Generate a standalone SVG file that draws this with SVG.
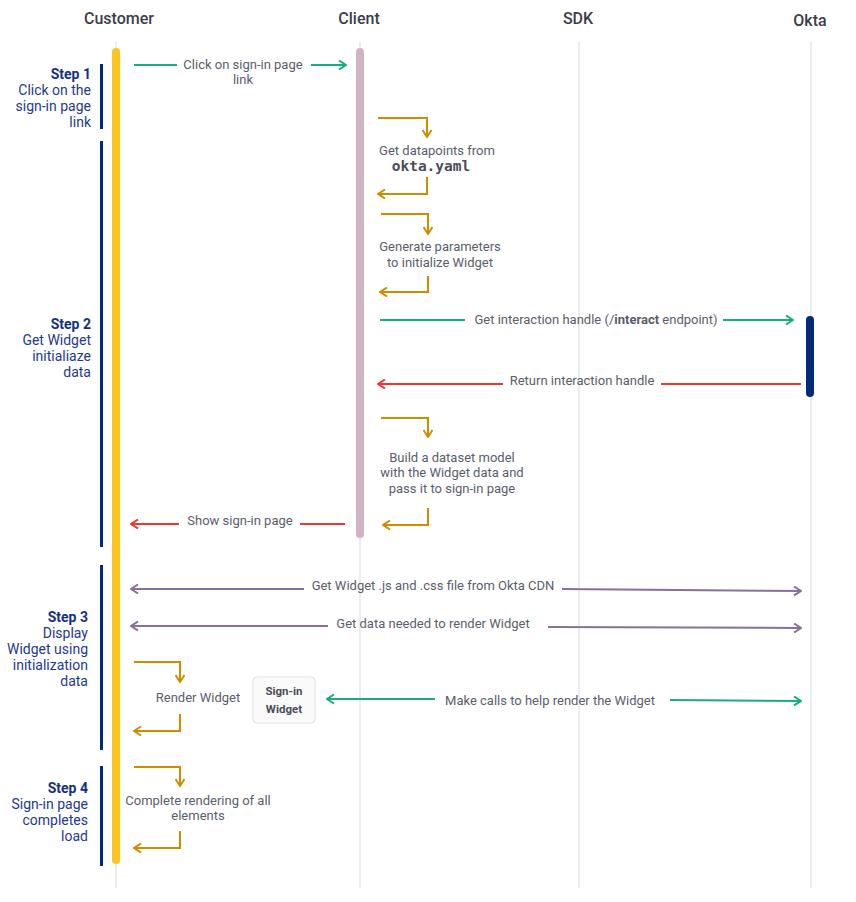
<svg xmlns="http://www.w3.org/2000/svg" width="856" height="902" viewBox="0 0 856 902">
<style>
.hdr{font-family:Roboto,"Liberation Sans",sans-serif;font-size:16px;font-weight:500;fill:#3b3d4a;text-anchor:middle}
.t{font-family:Roboto,"Liberation Sans",sans-serif;font-size:13px;fill:#5b5d6b;text-anchor:middle}
.st{font-family:Roboto,"Liberation Sans",sans-serif;font-size:14px;fill:#1e3a8c;text-anchor:end}
.stb{font-weight:700;fill:#163080}
.mono{font-family:"DejaVu Sans Mono","Liberation Mono",monospace;font-size:14.5px;font-weight:700;fill:#4a4c58}
.life{stroke:#e4e6eb;stroke-width:1.5;fill:none}
.g{stroke:#13b07b;stroke-width:2;fill:none}
.r{stroke:#e63a30;stroke-width:2;fill:none}
.o{stroke:#cf8c00;stroke-width:2;fill:none}
.p{stroke:#8a6f9c;stroke-width:2;fill:none}
.stepbar{fill:#002a7c}
.wt{font-family:Roboto,"Liberation Sans",sans-serif;font-size:11.5px;font-weight:700;fill:#4a4c58;text-anchor:middle}
</style>
<defs>
<marker id="ag" viewBox="0 0 10 10" refX="9" refY="5" markerWidth="10" markerHeight="10" markerUnits="userSpaceOnUse" orient="auto-start-reverse"><path d="M2,0.5 L9,5 L2,9.5" fill="none" stroke="#13b07b" stroke-width="2"/></marker>
<marker id="ar" viewBox="0 0 10 10" refX="9" refY="5" markerWidth="10" markerHeight="10" markerUnits="userSpaceOnUse" orient="auto-start-reverse"><path d="M2,0.5 L9,5 L2,9.5" fill="none" stroke="#e63a30" stroke-width="2"/></marker>
<marker id="ao" viewBox="0 0 10 10" refX="9" refY="5" markerWidth="10" markerHeight="10" markerUnits="userSpaceOnUse" orient="auto-start-reverse"><path d="M2,0.5 L9,5 L2,9.5" fill="none" stroke="#cf8c00" stroke-width="2"/></marker>
<marker id="ap" viewBox="0 0 10 10" refX="9" refY="5" markerWidth="10" markerHeight="10" markerUnits="userSpaceOnUse" orient="auto-start-reverse"><path d="M2,0.5 L9,5 L2,9.5" fill="none" stroke="#8a6f9c" stroke-width="2"/></marker>
</defs>
<rect width="856" height="902" fill="#ffffff"/>

<g id="lifelines">
<line class="life" x1="116" y1="42" x2="116" y2="888"/>
<line class="life" x1="360" y1="42" x2="360" y2="888"/>
<line class="life" x1="579" y1="42" x2="579" y2="888"/>
<line class="life" x1="811" y1="42" x2="811" y2="888"/>
</g>

<g id="customer"><text class="hdr" x="119" y="24">Customer</text><rect x="112" y="48" width="8" height="816" rx="4" fill="#fcc41c"/></g>
<g id="client"><text class="hdr" x="359" y="24">Client</text><rect x="356" y="48" width="8" height="490" rx="4" fill="#d2b2c5"/></g>
<g id="sdk"><text class="hdr" x="578" y="24">SDK</text></g>
<g id="okta"><text class="hdr" x="810" y="26">Okta</text><rect x="806" y="316" width="8" height="81" rx="4" fill="#002a7c"/></g>

<g id="step1"><rect class="stepbar" x="100" y="64" width="3" height="65"/>
<text class="st" x="91" y="79"><tspan class="stb">Step 1</tspan><tspan x="91" dy="16">Click on the</tspan><tspan x="91" dy="16">sign-in page</tspan><tspan x="91" dy="16">link</tspan></text></g>
<g id="step2"><rect class="stepbar" x="100" y="141" width="3" height="406"/>
<text class="st" x="91" y="329"><tspan class="stb">Step 2</tspan><tspan x="91" dy="16">Get Widget</tspan><tspan x="91" dy="16">initialiaze</tspan><tspan x="91" dy="16">data</tspan></text></g>
<g id="step3"><rect class="stepbar" x="100" y="565" width="3" height="185"/>
<text class="st" x="88" y="622"><tspan class="stb">Step 3</tspan><tspan x="88" dy="16">Display</tspan><tspan x="88" dy="16">Widget using</tspan><tspan x="88" dy="16">initialization</tspan><tspan x="88" dy="16">data</tspan></text></g>
<g id="step4"><rect class="stepbar" x="100" y="766" width="3" height="100"/>
<text class="st" x="88" y="793"><tspan class="stb">Step 4</tspan><tspan x="88" dy="16">Sign-in page</tspan><tspan x="88" dy="16">completes</tspan><tspan x="88" dy="16">load</tspan></text></g>

<g id="signin-widget"><rect x="253" y="677" width="62" height="46" rx="4" fill="#fafafa" stroke="#e2e2e2"/>
<text class="wt" x="284" y="695">Sign-in</text>
<text class="wt" x="284" y="713">Widget</text></g>

<g id="connectors">
<line class="g" x1="134" y1="65" x2="177" y2="65"/><line class="g" x1="311" y1="65" x2="346" y2="65" marker-end="url(#ag)"/>
<text class="t" x="243" y="69">Click on sign-in page</text><text class="t" x="243" y="84">link</text>

<path class="o" d="M378,118 H427 V137" marker-end="url(#ao)"/>
<text class="t" x="437" y="155">Get datapoints from</text>
<text class="mono" x="431" y="171" text-anchor="middle">okta.yaml</text>
<path class="o" d="M427,177 V194 H378" marker-end="url(#ao)"/>

<path class="o" d="M381,214 H428 V234" marker-end="url(#ao)"/>
<text class="t" x="440" y="251">Generate parameters</text><text class="t" x="440" y="267">to initialize Widget</text>
<path class="o" d="M428,276 V292 H380" marker-end="url(#ao)"/>

<line class="g" x1="380" y1="320" x2="465" y2="320"/><line class="g" x1="723" y1="320" x2="793" y2="320" marker-end="url(#ag)"/>
<text class="t" x="596" y="324">Get interaction handle (/<tspan font-weight="700">interact</tspan> endpoint)</text>

<line class="r" x1="801" y1="384" x2="661" y2="384"/><line class="r" x1="503" y1="384" x2="378" y2="384" marker-end="url(#ar)"/>
<text class="t" x="582" y="385">Return interaction handle</text>

<path class="o" d="M381,418 H428 V437" marker-end="url(#ao)"/>
<text class="t" x="452" y="462">Build a dataset model</text><text class="t" x="452" y="477">with the Widget data and</text><text class="t" x="452" y="493">pass it to sign-in page</text>
<path class="o" d="M428,508 V525 H383" marker-end="url(#ao)"/>

<line class="r" x1="345" y1="524" x2="300" y2="524"/><line class="r" x1="179" y1="524" x2="131" y2="524" marker-end="url(#ar)"/>
<text class="t" x="240" y="525">Show sign-in page</text>

<line class="p" x1="131" y1="589" x2="304" y2="589" marker-start="url(#ap)"/><line class="p" x1="562" y1="589" x2="801" y2="591" marker-end="url(#ap)"/>
<text class="t" x="433" y="590">Get Widget .js and .css file from Okta CDN</text>

<line class="p" x1="131" y1="626" x2="328" y2="626" marker-start="url(#ap)"/><line class="p" x1="548" y1="627" x2="801" y2="628" marker-end="url(#ap)"/>
<text class="t" x="433" y="628">Get data needed to render Widget</text>

<path class="o" d="M134,662 H180 V682" marker-end="url(#ao)"/>
<text class="t" x="198" y="702">Render Widget</text>
<path class="o" d="M180,714 V731 H134" marker-end="url(#ao)"/>

<line class="g" x1="327" y1="699" x2="435" y2="699" marker-start="url(#ag)"/><line class="g" x1="670" y1="700" x2="801" y2="701" marker-end="url(#ag)"/>
<text class="t" x="550" y="705">Make calls to help render the Widget</text>

<path class="o" d="M134,767 H180 V786" marker-end="url(#ao)"/>
<text class="t" x="198" y="805">Complete rendering of all</text><text class="t" x="198" y="820">elements</text>
<path class="o" d="M180,831 V848 H134" marker-end="url(#ao)"/>
</g>
</svg>
